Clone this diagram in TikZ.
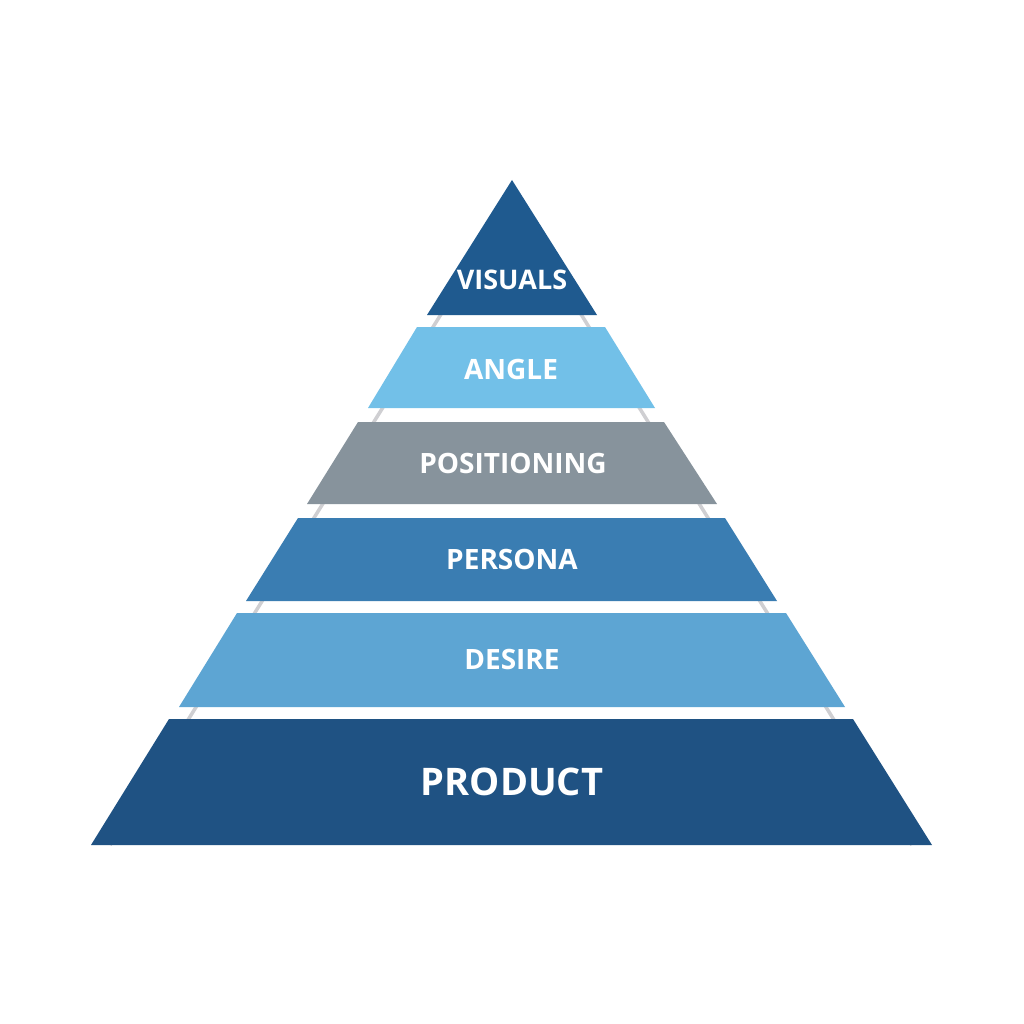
\documentclass[tikz,border=0pt]{standalone}
\usepackage{fontspec}
\setmainfont{Open Sans}
\definecolor{cDark}{HTML}{1F5A8F}
\definecolor{cAngle}{HTML}{72C0E8}
\definecolor{cPos}{HTML}{87939C}
\definecolor{cPersona}{HTML}{3A7DB2}
\definecolor{cDesire}{HTML}{5DA5D3}
\definecolor{cProduct}{HTML}{1F5283}
\definecolor{cEdge}{HTML}{CFCFD2}
\tikzset{
  layer/.style={draw=none},
  lbl/.style={text=white, font=\bfseries\fontsize{28}{30}\selectfont, inner sep=0pt, anchor=center},
  guide/.style={draw=cEdge, line width=3.5pt}
}
\begin{document}
\begin{tikzpicture}[x=1pt,y=-1pt]
\useasboundingbox[fill=white] (0,0) rectangle (1024,1024);
% guide lines behind layers
\coordinate (gapex) at (511,202);
\coordinate (gl) at (110,845);
\coordinate (gr) at (912,845);
\draw[guide] (gapex) -- (gl);
\draw[guide] (gapex) -- (gr);
% layers
\fill[cDark] (512,180) -- (597,315) -- (427,315) -- cycle;
\fill[cAngle] (417,327) -- (605,327) -- (655,408) -- (368,408) -- cycle;
\fill[cPos] (358,422) -- (664,422) -- (717,504) -- (307,504) -- cycle;
\fill[cPersona] (298,518) -- (725,518) -- (777,601) -- (246,601) -- cycle;
\fill[cDesire] (237,613) -- (786,613) -- (845,707) -- (179,707) -- cycle;
\fill[cProduct] (169,719) -- (853,719) -- (932,845) -- (91,845) -- cycle;
% labels
\node[lbl, font=\bfseries\fontsize{27}{29}\selectfont] (visuals) at (512,280) {VISUALS};
\node[lbl] (angle) at (511,369) {ANGLE};
\node[lbl] (positioning) at (513,463) {POSITIONING};
\node[lbl] (persona) at (512,559) {PERSONA};
\node[lbl] (desire) at (512,659) {DESIRE};
\node[lbl, font=\bfseries\fontsize{38}{40}\selectfont] (product) at (512,782) {PRODUCT};
\end{tikzpicture}
\end{document}
